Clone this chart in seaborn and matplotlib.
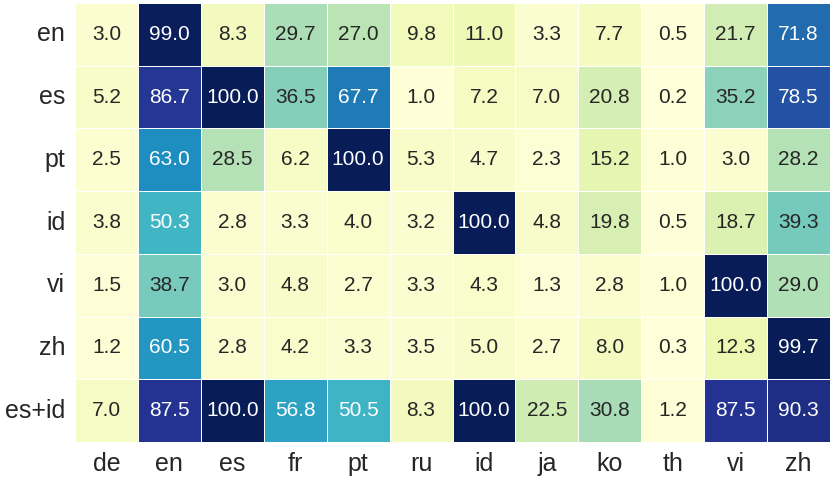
import matplotlib
matplotlib.use("Agg")
import matplotlib.pyplot as plt
import seaborn as sns
import numpy as np
import pandas as pd

rows = ["en", "es", "pt", "id", "vi", "zh", "es+id"]
cols = ["de", "en", "es", "fr", "pt", "ru", "id", "ja", "ko", "th", "vi", "zh"]

r_en = [3.0, 99.0, 8.3, 29.7, 27.0, 9.8, 11.0, 3.3, 7.7, 0.5, 21.7, 71.8]
r_es = [5.2, 86.7, 100.0, 36.5, 67.7, 1.0, 7.2, 7.0, 20.8, 0.2, 35.2, 78.5]
r_pt = [2.5, 63.0, 28.5, 6.2, 100.0, 5.3, 4.7, 2.3, 15.2, 1.0, 3.0, 28.2]
r_id = [3.8, 50.3, 2.8, 3.3, 4.0, 3.2, 100.0, 4.8, 19.8, 0.5, 18.7, 39.3]
r_vi = [1.5, 38.7, 3.0, 4.8, 2.7, 3.3, 4.3, 1.3, 2.8, 1.0, 100.0, 29.0]
r_zh = [1.2, 60.5, 2.8, 4.2, 3.3, 3.5, 5.0, 2.7, 8.0, 0.3, 12.3, 99.7]
r_esid = [7.0, 87.5, 100.0, 56.8, 50.5, 8.3, 100.0, 22.5, 30.8, 1.2, 87.5, 90.3]

df = pd.DataFrame([r_en, r_es, r_pt, r_id, r_vi, r_zh, r_esid], index=rows, columns=cols)

plt.rcParams['font.family'] = ['Liberation Sans', 'DejaVu Sans']
plt.rcParams['text.color'] = '#262626'
fig = plt.figure(figsize=(8.3, 4.8), dpi=100)
ax = fig.add_axes([75/830, 1-442/480, 755/830, 439/480])
sns.heatmap(df, ax=ax, cmap="YlGnBu", vmin=0, vmax=100, annot=True, fmt=".1f",
            annot_kws={"fontsize": 15}, linewidths=0.4, linecolor="white", cbar=False)
ax.tick_params(axis="both", length=0, labelsize=18, pad=7, colors="#262626")
ax.set_yticklabels(rows, rotation=0)
ax.set_xticklabels(cols, rotation=0)
ax.set_xlabel("")
ax.set_ylabel("")
fig.savefig("out.png", dpi=100)
